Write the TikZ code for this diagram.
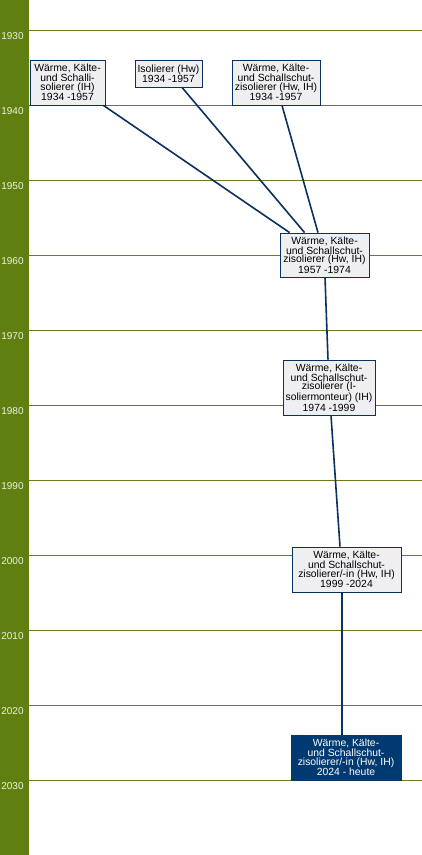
\documentclass[tikz,border=0pt]{standalone}
\usepackage{fontspec}
\setmainfont{Liberation Sans}
\definecolor{bargreen}{HTML}{5F7F10}
\definecolor{gridolive}{HTML}{6F7A1E}
\definecolor{yeartxt}{HTML}{EEF2DC}
\definecolor{navy}{HTML}{0B315F}
\definecolor{boxfill}{HTML}{EFEFF1}
\definecolor{boxdark}{HTML}{003A70}
\tikzset{
  px/.style={x=1pt,y=-1pt},
  jobbox/.style={draw=navy,fill=boxfill,line width=0.8pt,align=center,inner sep=0pt,
    font=\fontsize{10.4}{8.7}\selectfont,text=black},
  curbox/.style={jobbox,fill=boxdark,draw=boxdark,text=white},
  link/.style={draw=navy,line width=1.6pt},
  grid/.style={draw=gridolive,line width=0.9pt},
  yearlbl/.style={text=yeartxt,font=\fontsize{10}{10}\selectfont,inner sep=0pt}
}
\begin{document}
\begin{tikzpicture}[px]
\useasboundingbox (0,0) rectangle (422,855);
\fill[white] (0,0) rectangle (422,855);
\fill[bargreen] (0,0) rectangle (28.5,855);
\foreach \k/\yr in {0/1930,1/1940,2/1950,3/1960,4/1970,5/1980,6/1990,7/2000,8/2010,9/2020,10/2030}{
  \path[grid] (28.5,{30+75*\k}) -- (422,{30+75*\k});
  \node[yearlbl] (y\yr) at (12.5,{36.5+75*\k}) {\yr};
}
\node[jobbox,minimum width=75pt,minimum height=45pt] (b1) at (67.5,82.5)
  {Wärme, Kälte-\\und Schalli-\\solierer (IH)\\1934 -1957};
\node[jobbox,minimum width=67pt,minimum height=27pt] (b2) at (168.5,73.5)
  {Isolierer (Hw)\\1934 -1957};
\node[jobbox,minimum width=88pt,minimum height=45pt] (b3) at (276,82.5)
  {Wärme, Kälte-\\und Schallschut-\\zisolierer (Hw, IH)\\1934 -1957};
\node[jobbox,minimum width=89pt,minimum height=44pt] (b4) at (324.5,255)
  {Wärme, Kälte-\\und Schallschut-\\zisolierer (Hw, IH)\\1957 -1974};
\node[jobbox,minimum width=92pt,minimum height=55pt] (b5) at (329,387.5)
  {Wärme, Kälte-\\und Schallschut-\\zisolierer (I-\\soliermonteur) (IH)\\1974 -1999};
\node[jobbox,minimum width=109pt,minimum height=45pt] (b6) at (346.5,569.5)
  {Wärme, Kälte-\\und Schallschut-\\zisolierer/-in (Hw, IH)\\1999 -2024};
\node[curbox,minimum width=110pt,minimum height=45pt] (b7) at (346,757.5)
  {Wärme, Kälte-\\und Schallschut-\\zisolierer/-in (Hw, IH)\\2024 - heute};
\path[link] ([xshift=-2pt]b1.south east) -- ([xshift=10pt]b4.north west);
\path[link] ([xshift=13.5pt]b2.south) -- ([xshift=25pt]b4.north west);
\path[link] ([xshift=6pt]b3.south) -- ([xshift=-6.5pt]b4.north);
\path[link] ([xshift=0.5pt]b4.south) -- ([xshift=-1pt]b5.north);
\path[link] ([xshift=2pt]b5.south) -- ([xshift=-6.5pt]b6.north);
\path[link] ([xshift=-4.5pt]b6.south) -- ([xshift=-4pt]b7.north);
\end{tikzpicture}
\end{document}
